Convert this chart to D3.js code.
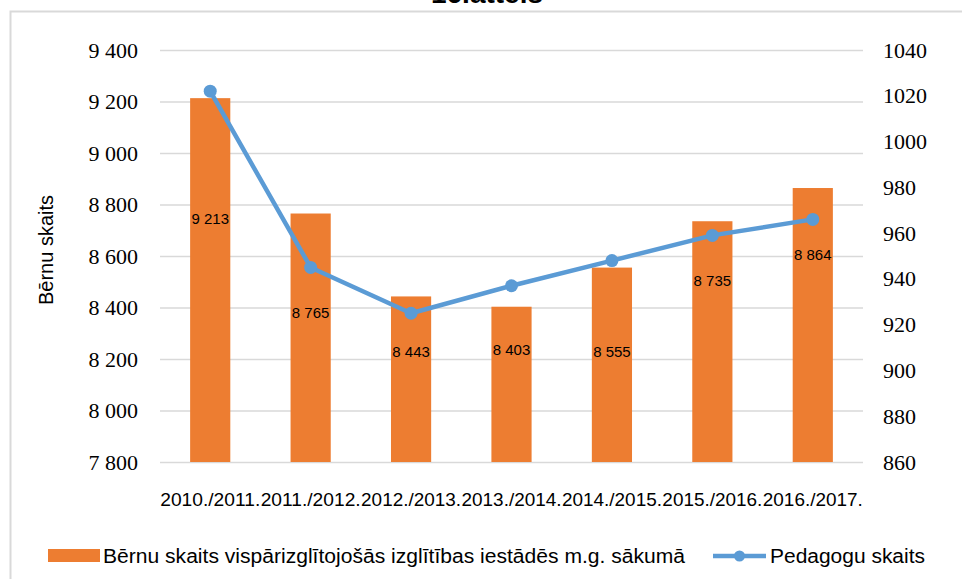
<!DOCTYPE html>
<html>
<head>
<meta charset="utf-8">
<script src="https://cdn.jsdelivr.net/npm/d3@7"></script>
<style>
  body { margin: 0; background: #fff; }
  svg { display: block; }
</style>
</head>
<body>
<svg id="chart" width="962" height="579"></svg>
<script>
// data
const years = ["2010./2011.", "2011./2012.", "2012./2013.", "2013./2014.", "2014./2015.", "2015./2016.", "2016./2017."];
const children = [9213, 8765, 8443, 8403, 8555, 8735, 8864];
const teachers = [1022, 945, 925, 937, 948, 959, 966];
// where the bar labels sit, in left-axis units (hand placed in the original)
const labelAt = [8744, 8379, 8227, 8235, 8227, 8503, 8604];
const leftTicks = [7800, 8000, 8200, 8400, 8600, 8800, 9000, 9200, 9400];
const rightTicks = [860, 880, 900, 920, 940, 960, 980, 1000, 1020, 1040];

const barName = "Bērnu skaits vispārizglītojošās izglītības iestādēs m.g. sākumā";
const lineName = "Pedagogu skaits";

const svg = d3.select("#chart"),
  width = +svg.attr("width"),
  height = +svg.attr("height");

const orange = "#ed7d31", blue = "#5b9bd5", grid = "#d9d9d9";
const plotL = 160, plotR = 863, plotT = 50, plotB = 462;

const lv = d3.formatLocale({ decimal: ",", thousands: " ", grouping: [3], currency: ["", ""] });
const fmt = lv.format(",d");

// frame + title (cut off at the top in the original)
svg.append("text")
  .attr("x", 487).attr("y", 3)
  .attr("text-anchor", "middle")
  .style("font-family", "Liberation Sans, Arial, sans-serif")
  .style("font-weight", "bold")
  .style("font-size", "28px")
  .text("16.attēls");

svg.append("path")
  .attr("d", "M10.5," + height + " V11.5 H" + width)
  .attr("fill", "none")
  .attr("stroke", grid)
  .attr("stroke-width", 2);

const x = d3.scaleBand()
  .domain(years)
  .range([plotL, plotR])
  .paddingInner(0.6)
  .paddingOuter(0.3);

const y = d3.scaleLinear().domain([7800, 9400]).range([plotB, plotT]);
const y2 = d3.scaleLinear().domain([860, 1040]).range([plotB, plotT]);

// gridlines
svg.append("g")
  .selectAll("line")
  .data(leftTicks)
  .enter().append("line")
  .attr("x1", plotL).attr("x2", plotR)
  .attr("y1", d => y(d) + 0.5).attr("y2", d => y(d) + 0.5)
  .attr("stroke", grid)
  .attr("stroke-width", 1.3);

// left axis
const yAxis = svg.append("g")
  .attr("transform", "translate(138,0)")
  .call(d3.axisLeft(y).tickValues(leftTicks).tickFormat(fmt).tickSize(0).tickPadding(0));
yAxis.select(".domain").remove();
yAxis.selectAll("text")
  .style("font-family", "Liberation Serif, Times New Roman, serif")
  .style("font-size", "22px")
  .attr("fill", "#000");

// right axis
const y2Axis = svg.append("g")
  .attr("transform", "translate(883,0)")
  .call(d3.axisRight(y2).tickValues(rightTicks).tickFormat(d3.format("d")).tickSize(0).tickPadding(0));
y2Axis.select(".domain").remove();
y2Axis.selectAll("text")
  .style("font-family", "Liberation Serif, Times New Roman, serif")
  .style("font-size", "22px")
  .attr("fill", "#000");

// x axis labels
const xAxis = svg.append("g")
  .attr("transform", "translate(0," + plotB + ")")
  .call(d3.axisBottom(x).tickSize(0).tickPadding(31));
xAxis.select(".domain").remove();
xAxis.selectAll("text")
  .style("font-family", "Liberation Sans, Arial, sans-serif")
  .style("font-size", "18px")
  .attr("textLength", 100)
  .attr("lengthAdjust", "spacingAndGlyphs")
  .attr("fill", "#000");

// y title
svg.append("text")
  .attr("transform", "translate(53,250) rotate(-90)")
  .attr("text-anchor", "middle")
  .style("font-family", "Liberation Sans, Arial, sans-serif")
  .style("font-size", "20px")
  .text("Bērnu skaits");

// bars
svg.append("g")
  .selectAll("rect")
  .data(children)
  .enter().append("rect")
  .attr("x", (d, i) => x(years[i]))
  .attr("width", x.bandwidth())
  .attr("y", d => y(d))
  .attr("height", d => plotB - y(d))
  .attr("fill", orange);

// line
const line = d3.line()
  .x((d, i) => x(years[i]) + x.bandwidth() / 2)
  .y(d => y2(d));

svg.append("path")
  .datum(teachers)
  .attr("d", line)
  .attr("fill", "none")
  .attr("stroke", blue)
  .attr("stroke-width", 4.5)
  .attr("stroke-linejoin", "round");

svg.append("g")
  .selectAll("circle")
  .data(teachers)
  .enter().append("circle")
  .attr("cx", (d, i) => x(years[i]) + x.bandwidth() / 2)
  .attr("cy", d => y2(d))
  .attr("r", 6.5)
  .attr("fill", blue);

// bar labels
svg.append("g")
  .selectAll("text")
  .data(children)
  .enter().append("text")
  .attr("x", (d, i) => x(years[i]) + x.bandwidth() / 2)
  .attr("y", (d, i) => y(labelAt[i]))
  .attr("dy", "0.35em")
  .attr("text-anchor", "middle")
  .style("font-family", "Liberation Sans, Arial, sans-serif")
  .style("font-size", "15px")
  .text(d => fmt(d));

// legend
const legend = svg.append("g").attr("transform", "translate(0,556)");
legend.append("rect")
  .attr("x", 48).attr("y", -7)
  .attr("width", 52).attr("height", 13)
  .attr("fill", orange);
legend.append("text")
  .attr("x", 103).attr("y", 0).attr("dy", "0.35em")
  .style("font-family", "Liberation Sans, Arial, sans-serif")
  .style("font-size", "20px")
  .attr("textLength", 582)
  .attr("lengthAdjust", "spacingAndGlyphs")
  .text(barName);
legend.append("line")
  .attr("x1", 713).attr("x2", 766)
  .attr("y1", 0).attr("y2", 0)
  .attr("stroke", blue).attr("stroke-width", 4.5);
legend.append("circle")
  .attr("cx", 739.5).attr("cy", 0).attr("r", 5.5)
  .attr("fill", blue);
legend.append("text")
  .attr("x", 770).attr("y", 0).attr("dy", "0.35em")
  .style("font-family", "Liberation Sans, Arial, sans-serif")
  .style("font-size", "20px")
  .attr("textLength", 155)
  .attr("lengthAdjust", "spacingAndGlyphs")
  .text(lineName);
</script>
</body>
</html>
